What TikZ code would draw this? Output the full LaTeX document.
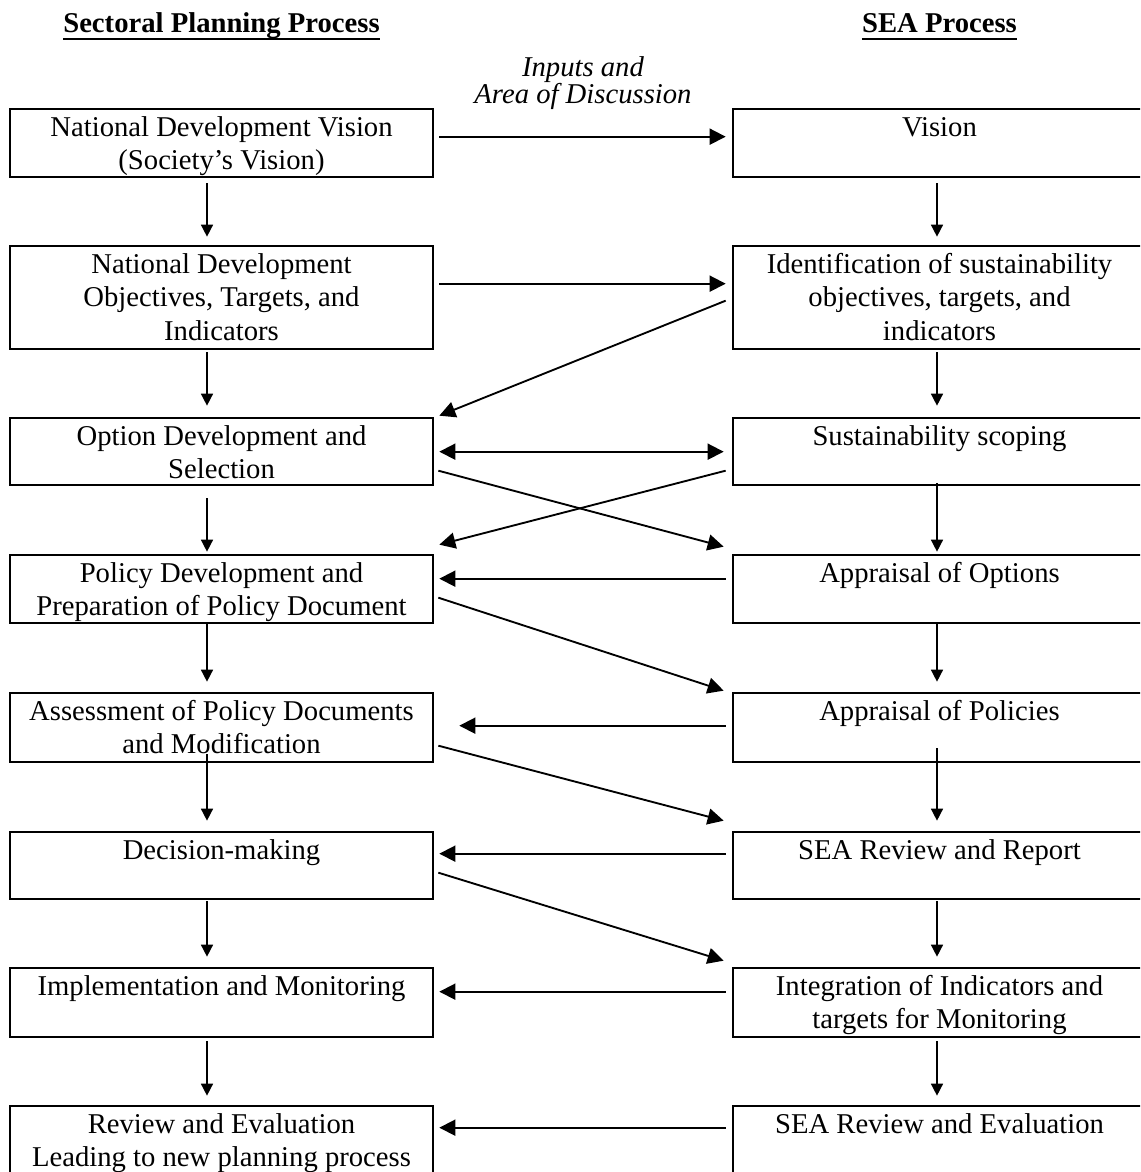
\documentclass[tikz,border=0pt]{standalone}
\usepackage{fontspec}
\setmainfont{Liberation Serif}
\usetikzlibrary{arrows.meta,calc}

% strut that fixes the height of the first line of every box text
\newcommand\firstline{\rule{0pt}{17pt}}

\begin{document}
\begin{tikzpicture}[x=0.75pt,y=-0.75pt,
  box/.style={draw, line width=2pt, minimum width=317.25pt, minimum height=#1*0.75pt, inner sep=0pt},
  seabox/.style={box=#1, minimum width=309.75pt},
  boxtext/.style={anchor=north, inner sep=0pt, align=center, font=\fontsize{21.5pt}{25pt}\selectfont},
  head/.style={anchor=base, inner sep=0pt, font=\fontsize{21.5pt}{25pt}\selectfont\bfseries},
  note/.style={anchor=north, inner sep=0pt, align=center, font=\fontsize{21.5pt}{20pt}\selectfont\itshape},
  down/.style={line width=1.1pt, -{Triangle[length=9pt,width=9pt]}},
  flow/.style={line width=1.4pt, -{Triangle[length=12pt,width=12pt]}},
  both/.style={line width=1.4pt, {Triangle[length=12pt,width=12pt]}-{Triangle[length=12pt,width=12pt]}},
]
\useasboundingbox (0,0) rectangle (1140,1172);
\clip (0,0) rectangle (1140,1172);
\fill[white] (0,0) rectangle (1140,1172);

% column headings
\node[head] (H1) at (221.5,32) {Sectoral Planning Process};
\node[head] (H2) at (939.5,32) {SEA Process};
\draw[line width=1.5pt] ($(H1.base west)+(0,7)$) -- ($(H1.base east)+(0,7)$);
\draw[line width=1.5pt] ($(H2.base west)+(0,7)$) -- ($(H2.base east)+(0,7)$);
\node[note] (N) at (583,54) {\firstline Inputs and\\Area of Discussion};

% sectoral planning boxes
\node[box=68]  (L1) at (221.5,143)    {};
\node[box=103] (L2) at (221.5,297.5)  {};
\node[box=67]  (L3) at (221.5,451.5)  {};
\node[box=68]  (L4) at (221.5,589)    {};
\node[box=69]  (L5) at (221.5,727.5)  {};
\node[box=67]  (L6) at (221.5,865.5)  {};
\node[box=69]  (L7) at (221.5,1002.5) {};
\node[box=68]  (L8) at (221.5,1140)   {};

% SEA boxes
\node[seabox=68]  (R1) at (939.5,143)    {};
\node[seabox=103] (R2) at (939.5,297.5)  {};
\node[seabox=67]  (R3) at (939.5,451.5)  {};
\node[seabox=68]  (R4) at (939.5,589)    {};
\node[seabox=69]  (R5) at (939.5,727.5)  {};
\node[seabox=67]  (R6) at (939.5,865.5)  {};
\node[seabox=69]  (R7) at (939.5,1002.5) {};
\node[seabox=68]  (R8) at (939.5,1140)   {};

% box texts
\node[boxtext] (L1t) at ($(L1.north)+(0,6)$) {\firstline National Development Vision\\(Society’s Vision)};
\node[boxtext] (L2t) at ($(L2.north)+(0,6)$) {\firstline National Development\\Objectives, Targets, and\\Indicators};
\node[boxtext] (L3t) at ($(L3.north)+(0,6)$) {\firstline Option Development and\\Selection};
\node[boxtext] (L4t) at ($(L4.north)+(0,6)$) {\firstline Policy Development and\\Preparation of Policy Document};
\node[boxtext] (L5t) at ($(L5.north)+(0,6)$) {\firstline Assessment of Policy Documents\\and Modification};
\node[boxtext] (L6t) at ($(L6.north)+(0,6)$) {\firstline Decision-making};
\node[boxtext] (L7t) at ($(L7.north)+(0,6)$) {\firstline Implementation and Monitoring};
\node[boxtext] (L8t) at ($(L8.north)+(0,6)$) {\firstline Review and Evaluation\\Leading to new planning process};

\node[boxtext] (R1t) at ($(R1.north)+(0,6)$) {\firstline Vision};
\node[boxtext] (R2t) at ($(R2.north)+(0,6)$) {\firstline Identification of sustainability\\objectives, targets, and\\indicators};
\node[boxtext] (R3t) at ($(R3.north)+(0,6)$) {\firstline Sustainability scoping};
\node[boxtext] (R4t) at ($(R4.north)+(0,6)$) {\firstline Appraisal of Options};
\node[boxtext] (R5t) at ($(R5.north)+(0,6)$) {\firstline Appraisal of Policies};
\node[boxtext] (R6t) at ($(R6.north)+(0,6)$) {\firstline SEA Review and Report};
\node[boxtext] (R7t) at ($(R7.north)+(0,6)$) {\firstline Integration of Indicators and\\targets for Monitoring};
\node[boxtext] (R8t) at ($(R8.north)+(0,6)$) {\firstline SEA Review and Evaluation};

% vertical flow, sectoral column
\draw[down] ($(L1.south)+(-14.5,5)$)  -- ($(L2.north)+(-14.5,-8)$);
\draw[down] ($(L2.south)+(-14.5,2)$)  -- ($(L3.north)+(-14.5,-11)$);
\draw[down] ($(L3.south)+(-14.5,12)$) -- ($(L4.north)+(-14.5,-2)$);
\draw[down] ($(L4.south)+(-14.5,0)$)  -- ($(L5.north)+(-14.5,-10)$);
\draw[down] ($(L5.south)+(-14.5,-9)$) -- ($(L6.north)+(-14.5,-10)$);
\draw[down] ($(L6.south)+(-14.5,1)$)  -- ($(L7.north)+(-14.5,-10)$);
\draw[down] ($(L7.south)+(-14.5,3)$)  -- ($(L8.north)+(-14.5,-9)$);

% vertical flow, SEA column
\draw[down] ($(R1.south)+(-2.5,5)$)   -- ($(R2.north)+(-2.5,-8)$);
\draw[down] ($(R2.south)+(-2.5,2)$)   -- ($(R3.north)+(-2.5,-11)$);
\draw[down] ($(R3.south)+(-2.5,-3)$)  -- ($(R4.north)+(-2.5,-2)$);
\draw[down] ($(R4.south)+(-2.5,0)$)   -- ($(R5.north)+(-2.5,-10)$);
\draw[down] ($(R5.south)+(-2.5,-15)$) -- ($(R6.north)+(-2.5,-10)$);
\draw[down] ($(R6.south)+(-2.5,1)$)   -- ($(R7.north)+(-2.5,-10)$);
\draw[down] ($(R7.south)+(-2.5,3)$)   -- ($(R8.north)+(-2.5,-9)$);

% exchanges between the two processes
\draw[flow] ($(L1.north east)+(5,29)$)  -- ($(R1.north west)+(-6,29)$);
\draw[flow] ($(L2.north east)+(5,39)$)  -- ($(R2.north west)+(-6,39)$);
\draw[flow] ($(R2.north west)+(-6,56)$) -- ($(L3.north east)+(5,-1)$);
\draw[both] ($(L3.north east)+(5,35)$)  -- ($(R3.north west)+(-8,35)$);
\draw[flow] ($(L3.north east)+(4,54)$)  -- ($(R4.north west)+(-8,-7)$);
\draw[flow] ($(R3.north west)+(-6,54)$) -- ($(L4.north east)+(5,-9)$);
\draw[flow] ($(R4.north west)+(-6,25)$) -- ($(L4.north east)+(5,25)$);
\draw[flow] ($(L4.north east)+(4,44)$)  -- ($(R5.north west)+(-8,-1)$);
\draw[flow] ($(R5.north west)+(-6,34)$) -- ($(L5.north east)+(25,34)$);
\draw[flow] ($(L5.north east)+(4,54)$)  -- ($(R6.north west)+(-8,-10)$);
\draw[flow] ($(R6.north west)+(-6,23)$) -- ($(L6.north east)+(5,23)$);
\draw[flow] ($(L6.north east)+(4,42)$)  -- ($(R7.north west)+(-8,-6)$);
\draw[flow] ($(R7.north west)+(-6,25)$) -- ($(L7.north east)+(5,25)$);
\draw[flow] ($(R8.north west)+(-6,23)$) -- ($(L8.north east)+(5,23)$);
\end{tikzpicture}
\end{document}
